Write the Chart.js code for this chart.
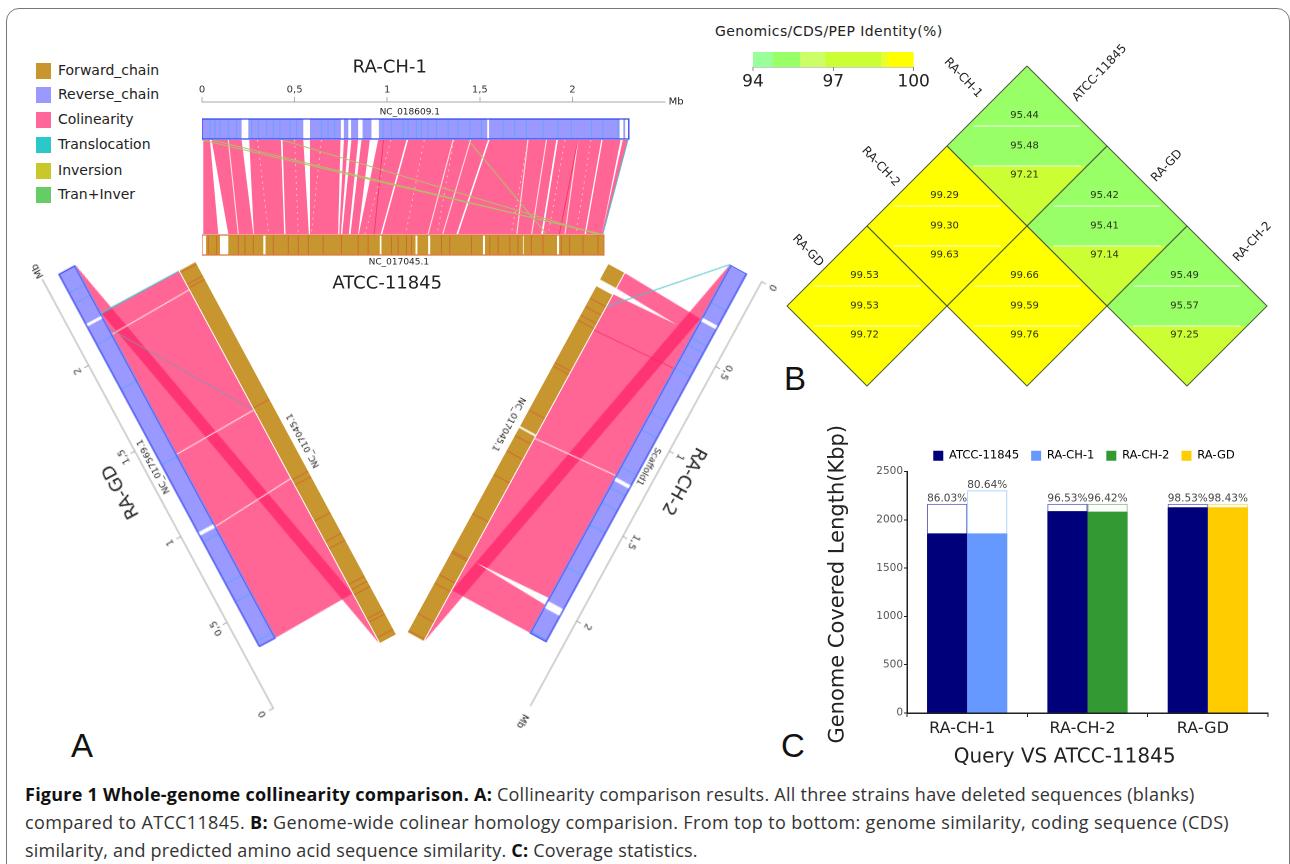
<!DOCTYPE html>
<html>
<head>
<meta charset="utf-8">
<script src="https://cdn.jsdelivr.net/npm/chart.js@4/dist/chart.umd.min.js"></script>
<style>
html,body{margin:0;padding:0;background:#fff;width:1290px;height:864px;overflow:hidden;font-family:"DejaVu Sans",sans-serif;color:#222}
canvas{position:absolute;left:0;top:0;transform-origin:0 0}
.frame{position:absolute;left:6px;top:8px;width:1284px;height:900px;border:1.5px solid #777;border-radius:13px;box-sizing:border-box}
.abs{position:absolute;white-space:nowrap}
.letter{font-family:"Liberation Sans",sans-serif;font-size:33px;color:#111}
.cap{left:25px;font-family:"Open Sans",sans-serif;font-size:18px;letter-spacing:0.25px;color:#333}
.cap b{color:#111}
.swatch{position:absolute;width:15px;height:16px;left:36px}
.leg{position:absolute;left:58px;font-size:14px;color:#222;white-space:nowrap}
</style>
</head>
<body>
<div class="frame"></div>
<div id="legendA"></div>
<div class="abs" style="left:715px;top:23px;font-size:14px;letter-spacing:.4px;color:#222">Genomics/CDS/PEP Identity(%)</div>
<div class="abs letter" style="left:71px;top:727px">A</div>
<div class="abs letter" style="left:784px;top:360px">B</div>
<div class="abs letter" style="left:781px;top:727px">C</div>
<div class="abs cap" style="top:782px"><b>Figure 1 Whole-genome collinearity comparison. A:</b> Collinearity comparison results. All three strains have deleted sequences (blanks)</div>
<div class="abs cap" style="top:810px;letter-spacing:.35px">compared to ATCC11845. <b>B:</b> Genome-wide colinear homology comparision. From top to bottom: genome similarity, coding sequence (CDS)</div>
<div class="abs cap" style="top:838px;letter-spacing:.2px">similarity, and predicted amino acid sequence similarity. <b>C:</b> Coverage statistics.</div>
<canvas id="topPanel"></canvas>
<canvas id="leftPanel"></canvas>
<canvas id="rightPanel"></canvas>
<canvas id="heatmap"></canvas>
<canvas id="colorbar"></canvas>
<canvas id="coverage"></canvas>
<script>
// panel A legend
const legendNames = ["Forward_chain","Reverse_chain","Colinearity","Translocation","Inversion","Tran+Inver"];
const legendColors = ["#c8952f","#9999ff","#ff6699","#2cc8c8","#c8c82a","#66cc66"];

// axis ticks in Mb
const axisMb = [0,0.5,1,1.5,2];

// RA-CH-1 vs ATCC: [query start, query end, ref start, ref end] in Mb
const ch1Blocks = [
  [.007,.043,.007,.088],[.052,.214,.142,.277],[.255,.426,.28,.444],[.435,.547,.451,.577],
  [.583,.748,.583,.735],[.766,.789,.741,.75],[.807,.843,.757,.793],[.861,.906,.802,.843],
  [.951,1.104,.847,.965],[1.113,1.544,.973,1.374],[1.553,1.913,1.383,1.832],
  [1.922,2.156,1.841,2.066],[2.163,2.26,2.073,2.159],[2.272,2.30,2.159,2.165]
];
const ch1Length = 2.305;
const atccLength = 2.17;
const ch1Ticks = [.043,.07,.097,.142,.187,.268,.304,.349,.385,.421,.475,.511,.645,.681,.717,.978,1.023,1.086,1.113,1.158,1.185,1.221,1.266,1.329,1.383,1.446,1.509,1.625,1.688,1.751,1.841,1.922,1.994,2.102,2.165,2.246];
const ch1Gaps = [[.214,.25],[.547,.583],[.75,.766],[.79,.805],[.843,.867],[.915,.955],[1.54,1.55],[2.255,2.275],[2.285,2.30]];
const atccTopTicks = [.034,.079,.196,.232,.277,.385,.466,.52,.574,.654,.753,.843,.897,1.023,1.059,1.131,1.104,1.293,1.338,1.455,1.554,1.599,1.662,1.706,1.778,1.841,1.94,1.985,2.057,2.138];
const atccTopGaps = [[.002,.022],[.097,.142],[.331,.343],[.96,.969],[1.153,1.163],[1.221,1.232],[1.517,1.528],[1.733,1.737],[1.917,1.928]];
const ch1PaleLines = [[.142,.196],[1.356,1.221],[1.45,1.3],[1.76,1.7],[1.86,1.78],[2.03,1.96]];
const ch1DotLines = [[.30,.36],[.50,.52],[.645,.59],[1.02,.88],[1.2,1.1],[1.36,1.27],[1.76,1.67],[1.96,1.87],[2.1,2.02]];
const ch1RedLines = [[2.03,1.93],[.98,.93]];
const ch1Inversions = [[0,2.156],[.052,2.147],[.433,2.13],[1.437,1.859]];
const ch1Translocations = [[2.30,2.165]];

// RA-GD vs ATCC
const gdBlocks = [[0,1.89,.29,2.17],[1.89,2.17,0,.29]];
const gdTicks = [.03,.26,.365,.61,1.06,1.5,1.76,2,2.06];
const gdGaps = [[.645,.665],[1.865,1.88]];
const atccGdTicks = [.03,.12,.14,.28,.31,.34,.55,.59,.71,.92,.95,1.37,2.07,2.09,2.16];
const gdPaleLines = [[.65,.96],[1.07,1.36],[1.77,2.06]];
const gdGreyLines = [[1.8,1.36]];
const gdTealLines = [[1.89,2.17]];

// RA-CH-2 vs ATCC
const ch2Blocks = [[.32,2.17,0,1.87],[0,.32,1.87,2.17]];
const ch2Ticks = [.22,.43,.47,.56,.61,.87,.97,1.19,1.31,1.4,1.53,1.78,2.16];
const ch2Gaps = [[.31,.33],[1.25,1.27],[1.98,2.02]];
const atccCh2Ticks = [.2,.25,.3,.33,.58,.6,.86,1.01,1.1,1.24,1.47,1.69,1.7,1.83,1.88,2.06,2.16];
const atccCh2Gaps = [[.09,.13],[.955,.965]];
const ch2PaleLines = [[1.243,.974]];
const ch2RedLines = [[.612,.335]];
const ch2TealLines = [[0,.196]];
// white wedges in the ribbon: [axis start, axis end, depth at wide end, axis tip, depth at tip]
const ch2Wedges = [[1.965,2.005,36,1.985,116],[.39,.425,124,.406,54]];

// panel B: identity for each cell, row by row
const heatRows = ["RA-CH-1","RA-CH-2","RA-GD"];
const heatCols = ["ATCC-11845","RA-GD","RA-CH-2"];
const heatCells = [[0,0],[0,1],[0,2],[1,0],[1,1],[2,0]];
const genomeIdentity = [95.44,95.42,95.49,99.29,99.66,99.53];
const cdsIdentity = [95.48,95.41,95.57,99.30,99.59,99.53];
const pepIdentity = [97.21,97.14,97.25,99.63,99.76,99.72];

// colour bar
const binEdges = [94,94.73,95.75,96.69,98.77,99,100];
const binColors = ["#99ff99","#99ff66","#ccff66","#ccff33","#e6ff33","#ffff00"];
const barTicks = [94,97,100];

// panel C
const queries = ["RA-CH-1","RA-CH-2","RA-GD"];
const seriesNames = ["ATCC-11845","RA-CH-1","RA-CH-2","RA-GD"];
const seriesColors = ["#00007a","#6699ff","#339933","#ffcc00"];
const atccCovered = [1860,2090,2130];
const queryCovered = [1860,2085,2130];
const atccTotal = [2165,2165,2165];
const queryTotal = [2305,2165,2165];
const atccPercent = ["86.03%","96.53%","98.53%"];
const queryPercent = ["80.64%","96.42%","98.43%"];
const queryEdge = ["#99ccff","#88bb88","#ffdd66"];

Chart.defaults.animation = false;
Chart.defaults.font.family = '"DejaVu Sans",sans-serif';
const PINK = "rgba(255,30,100,0.68)";

// html legend for panel A
function addLegend(html){ document.getElementById("legendA").insertAdjacentHTML("beforeend",html); }
legendNames.forEach(function(name,i){
  const y = [63,87,112,137,163,187][i];
  addLegend('<div class="swatch" style="top:'+y+'px;background:'+legendColors[i]+'"></div>');
  addLegend('<div class="leg" style="top:'+(y-1)+'px">'+name+'</div>');
});

function polygon(points,color){
  return {data:points,backgroundColor:color,borderWidth:0,fill:"shape",pointRadius:0,tension:0};
}
function stroke(points,color,width,dash){
  return {data:points,borderColor:color,borderWidth:width,borderDash:dash||[],fill:false,pointRadius:0,tension:0};
}
function rect(x0,x1,y0,y1,color){
  return polygon([{x:x0,y:y0},{x:x1,y:y0},{x:x1,y:y1},{x:x0,y:y1}],color);
}
function textPlugin(items){
  return {id:"texts",afterDraw(chart){
    const ctx = chart.ctx;
    items.forEach(function(it){
      ctx.save();
      ctx.font = it.font;
      ctx.fillStyle = it.color || "#222";
      ctx.textAlign = "center";
      ctx.textBaseline = "middle";
      ctx.translate(chart.scales.x.getPixelForValue(it.x),chart.scales.y.getPixelForValue(it.y));
      if(it.rot) ctx.rotate(it.rot);
      ctx.fillText(it.text,0,0);
      ctx.restore();
    });
  }};
}

// one genome pair, drawn flat and turned round with css
function genomePanel(id,p){
  const ds = [];
  const qy = p.queryY, ry = p.refY;
  const ribbonTop = qy[1]+1, ribbonBottom = ry[0]-1;
  p.blocks.forEach(function(b){
    ds.push(polygon([
      {x:p.qOff+b[0],y:ribbonTop},{x:p.qOff+b[1],y:ribbonTop},
      {x:p.rOff+b[3],y:ribbonBottom},{x:p.rOff+b[2],y:ribbonBottom}],PINK));
  });
  (p.wedges||[]).forEach(function(w){
    ds.push(polygon([{x:w[0],y:w[2]},{x:w[1],y:w[2]},{x:w[3],y:w[4]}],"#fff"));
  });
  function links(list,color,width,dash){
    (list||[]).forEach(function(l){
      ds.push(stroke([{x:p.qOff+l[0],y:ribbonTop},{x:p.rOff+l[1],y:ribbonBottom}],color,width,dash));
    });
  }
  links(p.dots,"rgba(255,222,185,0.75)",0.9,[2,4]);
  links(p.pale,"rgba(255,238,228,0.9)",1.1);
  links(p.red,"rgba(235,40,80,0.8)",0.8);
  links(p.grey,"rgba(130,150,170,0.9)",0.9);
  links(p.inv,"rgba(178,190,105,0.95)",1);
  links(p.teal,"rgba(70,195,205,0.95)",1);

  // the two chains
  ds.push(rect(p.qOff,p.qOff+p.qLen,qy[0],qy[1],"#9999ff"));
  p.qTicks.forEach(function(t){
    ds.push(stroke([{x:p.qOff+t,y:qy[0]},{x:p.qOff+t,y:qy[1]}],"#66a3ff",1));
  });
  (p.qGaps||[]).forEach(function(g){ ds.push(rect(p.qOff+g[0],p.qOff+g[1],qy[0],qy[1],"#fff")); });
  const o = p.qOff, l = p.qLen;
  ds.push(stroke([{x:o,y:qy[0]},{x:o+l,y:qy[0]},{x:o+l,y:qy[1]},{x:o,y:qy[1]},{x:o,y:qy[0]}],"#3344ee",1.2));

  ds.push(rect(p.rOff,p.rOff+p.rLen,ry[0],ry[1],"#c8962e"));
  p.rTicks.forEach(function(t){
    ds.push(stroke([{x:p.rOff+t,y:ry[0]},{x:p.rOff+t,y:ry[1]}],"#cf6a33",1));
  });
  (p.rGaps||[]).forEach(function(g){ ds.push(rect(p.rOff+g[0],p.rOff+g[1],ry[0],ry[1],"#fff")); });
  if(p.rEdge){
    const a = p.rOff, b = p.rOff+p.rLen;
    ds.push(stroke([{x:a,y:ry[0]},{x:b,y:ry[0]},{x:b,y:ry[1]},{x:a,y:ry[1]},{x:a,y:ry[0]}],p.rEdge,1.2));
  }

  const padL = 30, padR = 40, padTop = 20, axisH = 30;
  const w = 2.5*p.ppm+padL+padR, h = padTop+axisH+160+50;
  const el = document.getElementById(id);
  el.width = w; el.height = h;
  el.style.transform = "translate("+p.ox+"px,"+p.oy+"px) rotate("+p.angle+"deg) translate("+(-padL)+"px,"+(-(padTop+axisH))+"px)";
  new Chart(el,{
    type:"line",
    data:{datasets:ds.reverse()},
    plugins:[textPlugin(p.texts)],
    options:{
      responsive:false,devicePixelRatio:2,events:[],
      layout:{padding:{left:padL,right:padR,top:padTop,bottom:50}},
      plugins:{legend:{display:false},tooltip:{enabled:false}},
      scales:{
        x:{type:"linear",position:"top",min:0,max:2.5,
          afterBuildTicks:function(s){ s.ticks = axisMb.map(function(v){return {value:v};}); },
          afterFit:function(s){ s.height = axisH; },
          grid:{drawOnChartArea:false,tickLength:5,color:"#999",lineWidth:.8},
          border:{color:"#888",width:.8},
          ticks:{font:{size:10},color:"#333",padding:1,maxRotation:0,autoSkip:false,
            callback:function(v){ return String(v).replace(".",","); }}},
        y:{type:"linear",reverse:true,min:0,max:160,display:false}
      }
    }
  });
}

const titleFont = '18px "DejaVu Sans"', smallFont = '9px "DejaVu Sans"', mbFont = '10px "DejaVu Sans"';

genomePanel("topPanel",{
  ox:202,oy:102,angle:0,ppm:185.4,qOff:0,rOff:0,qLen:ch1Length,rLen:atccLength,
  queryY:[17,37],refY:[133,153],rEdge:"#dd7744",
  blocks:ch1Blocks,qTicks:ch1Ticks,qGaps:ch1Gaps,rTicks:atccTopTicks,rGaps:atccTopGaps,
  dots:ch1DotLines,pale:ch1PaleLines,red:ch1RedLines,inv:ch1Inversions,teal:ch1Translocations,
  texts:[
    {text:"RA-CH-1",x:1.014,y:-34,font:titleFont},
    {text:"ATCC-11845",x:1.0,y:182,font:titleFont},
    {text:"NC_018609.1",x:1.122,y:10,font:smallFont},
    {text:"NC_017045.1",x:1.063,y:160,font:smallFont},
    {text:"Mb",x:2.56,y:0,font:mbFont}
  ]
});
genomePanel("leftPanel",{
  ox:273.3,oy:708.3,angle:241.7,ppm:195,qOff:.313,rOff:.036,qLen:atccLength,rLen:atccLength,
  queryY:[17,35],refY:[125,143],
  blocks:gdBlocks,qTicks:gdTicks,qGaps:gdGaps,rTicks:atccGdTicks,
  pale:gdPaleLines,grey:gdGreyLines,teal:gdTealLines,
  texts:[
    {text:"RA-GD",x:1.35,y:-31,font:titleFont},
    {text:"NC_017569.1",x:1.385,y:9,font:smallFont},
    {text:"NC_017045.1",x:1.138,y:153,font:smallFont},
    {text:"Mb",x:2.55,y:0,font:mbFont}
  ]
});
genomePanel("rightPanel",{
  ox:761.7,oy:281.7,angle:118.6,ppm:193.5,qOff:0,rOff:.3,qLen:atccLength,rLen:atccLength,
  queryY:[17,35],refY:[125,143],
  blocks:ch2Blocks,qTicks:ch2Ticks,qGaps:ch2Gaps,rTicks:atccCh2Ticks,rGaps:atccCh2Gaps,
  pale:ch2PaleLines,red:ch2RedLines,teal:ch2TealLines,wedges:ch2Wedges,
  texts:[
    {text:"RA-CH-2",x:1.10,y:-26.5,font:titleFont},
    {text:"Scaffold1",x:1.12,y:11,font:smallFont},
    {text:"NC_017045.1",x:1.275,y:154,font:smallFont},
    {text:"Mb",x:2.59,y:0,font:mbFont}
  ]
});

// panel B
function binColor(v){
  for(let i=binColors.length-1;i>=0;i--){ if(v>=binEdges[i]) return binColors[i]; }
  return binColors[0];
}
function bandPoints(cx,top,t0,t1){
  const hw = function(t){ return Math.min(t,2-t); };
  const pts = [{x:cx-hw(t0),y:top+t0},{x:cx+hw(t0),y:top+t0}];
  if(t0<1 && t1>1) pts.push({x:cx+1,y:top+1});
  pts.push({x:cx+hw(t1),y:top+t1},{x:cx-hw(t1),y:top+t1});
  if(t0<1 && t1>1) pts.push({x:cx-1,y:top+1});
  return pts;
}
const bandCuts = [0,.75,1.25,2];
const bandText = [.62,1,1.36];
const heatDs = [], heatTexts = [], heatEdges = [];
heatCells.forEach(function(cell,i){
  const cx = cell[1]-cell[0], top = cell[0]+cell[1];
  [genomeIdentity,cdsIdentity,pepIdentity].forEach(function(arr,k){
    heatDs.push(polygon(bandPoints(cx,top,bandCuts[k],bandCuts[k+1]),binColor(arr[i])));
    heatTexts.push({text:arr[i].toFixed(2),x:cx-.03,y:top+bandText[k],font:'10px "DejaVu Sans"',color:"#2a3320"});
  });
  [.75,1.25].forEach(function(t){
    const hw = Math.min(t,2-t)-.08;
    heatEdges.push(stroke([{x:cx-hw,y:top+t},{x:cx+hw,y:top+t}],"rgba(255,255,255,0.9)",1));
  });
  heatEdges.push(stroke([{x:cx,y:top},{x:cx+1,y:top+1},{x:cx,y:top+2},{x:cx-1,y:top+1},{x:cx,y:top}],"#4d5a3a",1));
});
const heatFont = '12px "DejaVu Sans"';
heatRows.forEach(function(name,r){
  heatTexts.push({text:name,x:[-.8,-1.83,-2.74][r],y:[.15,1.26,2.31][r],font:heatFont,rot:Math.PI/4+.03});
});
heatCols.forEach(function(name,c){
  heatTexts.push({text:name,x:[.91,1.75,2.82][c],y:[.09,1.25,2.2][c],font:heatFont,rot:-Math.PI/4-.03});
});
(function(){
  const el = document.getElementById("heatmap");
  el.width = 510; el.height = 375;
  el.style.transform = "translate(780px,20px)";
  new Chart(el,{
    type:"line",
    data:{datasets:heatDs.concat(heatEdges).reverse()},
    plugins:[textPlugin(heatTexts)],
    options:{responsive:false,devicePixelRatio:2,events:[],
      plugins:{legend:{display:false},tooltip:{enabled:false}},
      scales:{
        x:{type:"linear",min:-3.0875,max:3.2875,display:false},
        y:{type:"linear",reverse:true,min:-.575,max:4.1125,display:false}
      }}
  });
})();

// colour bar
(function(){
  const el = document.getElementById("colorbar");
  el.width = 240; el.height = 80;
  el.style.transform = "translate(700px,20px)";
  const ds = binColors.map(function(c,i){
    return {data:[[binEdges[i],binEdges[i+1]]],backgroundColor:c,borderWidth:0,barPercentage:1,categoryPercentage:1,grouped:false};
  });
  new Chart(el,{
    type:"bar",
    data:{labels:[""],datasets:ds},
    options:{indexAxis:"y",responsive:false,devicePixelRatio:2,events:[],
      layout:{padding:{left:53,right:26.4,top:32,bottom:5}},
      plugins:{legend:{display:false},tooltip:{enabled:false}},
      scales:{
        x:{type:"linear",min:94,max:100,
          afterBuildTicks:function(s){ s.ticks = barTicks.map(function(v){return {value:v};}); },
          afterFit:function(s){ s.height = 28; },
          grid:{drawOnChartArea:false,tickLength:4,color:"#888"},
          border:{color:"#999"},
          ticks:{font:{size:17},color:"#222",padding:1,maxRotation:0,autoSkip:false}},
        y:{display:false}
      }}
  });
})();

// panel C
const percentPlugin = {id:"percent",afterDatasetsDraw(chart){
  const ctx = chart.ctx;
  ctx.save();
  ctx.font = '10.5px "DejaVu Sans"';
  ctx.fillStyle = "#444";
  ctx.textAlign = "center";
  ctx.textBaseline = "bottom";
  [[2,atccPercent],[3,queryPercent]].forEach(function(p){
    chart.getDatasetMeta(p[0]).data.forEach(function(bar,i){
      ctx.fillText(p[1][i],bar.x,bar.y);
    });
  });
  ctx.restore();
}};
// the legend sits to the right of the plot's middle
const legendShift = {id:"legendShift",afterLayout(chart){
  chart.legend.left += 40;
  chart.legend.right += 40;
}};
(function(){
  const el = document.getElementById("coverage");
  el.width = 470; el.height = 351;
  el.style.transform = "translate(820px,419px)";
  const missing = function(total,cov){ return total.map(function(t,i){ return t-cov[i]; }); };
  new Chart(el,{
    type:"bar",
    data:{labels:queries,datasets:[
      {label:"ATCC-11845",stack:"atcc",data:atccCovered,backgroundColor:seriesColors[0],barPercentage:1,categoryPercentage:.667},
      {label:"query",stack:"query",data:queryCovered,backgroundColor:seriesColors.slice(1),barPercentage:1,categoryPercentage:.667},
      {label:"ATCC missing",stack:"atcc",data:missing(atccTotal,atccCovered),backgroundColor:"#fff",borderColor:"#6060c0",borderWidth:1,barPercentage:1,categoryPercentage:.667},
      {label:"query missing",stack:"query",data:missing(queryTotal,queryCovered),backgroundColor:"#fff",borderColor:queryEdge,borderWidth:1,barPercentage:1,categoryPercentage:.667}
    ]},
    plugins:[percentPlugin,legendShift,textPlugin([
      {text:"Query VS ATCC-11845",x:.81,y:-458,font:'20px "DejaVu Sans"'},
      {text:"Genome Covered Length(Kbp)",x:-1.073,y:1333,font:'21px "DejaVu Sans"',rot:-Math.PI/2}
    ])],
    options:{responsive:false,devicePixelRatio:2,events:[],
      layout:{padding:{left:0,right:22,top:19,bottom:0}},
      plugins:{
        tooltip:{enabled:false},
        legend:{position:"top",labels:{boxWidth:10,boxHeight:10,padding:12,font:{size:11.5},color:"#222",
          generateLabels:function(){
            return seriesNames.map(function(n,i){
              return {text:n,fillStyle:seriesColors[i],strokeStyle:seriesColors[i],lineWidth:0,hidden:false,datasetIndex:i};
            });
          }}}
      },
      scales:{
        x:{stacked:true,
          afterFit:function(s){ s.height = 57; },
          grid:{drawOnChartArea:false,offset:true,tickLength:4,color:"#222"},
          border:{color:"#222",width:1.5},
          ticks:{font:{size:16},color:"#222",padding:2,labelOffset:-5}},
        y:{stacked:true,min:0,max:2500,
          afterFit:function(s){ s.width = 87; },
          grid:{drawOnChartArea:false,tickLength:3,color:"#222"},
          border:{color:"#222",width:1.5},
          ticks:{stepSize:500,font:{size:10.5},color:"#555",padding:1,callback:function(v){ return String(v); }}}
      }}
  });
})();
</script>
</body>
</html>
